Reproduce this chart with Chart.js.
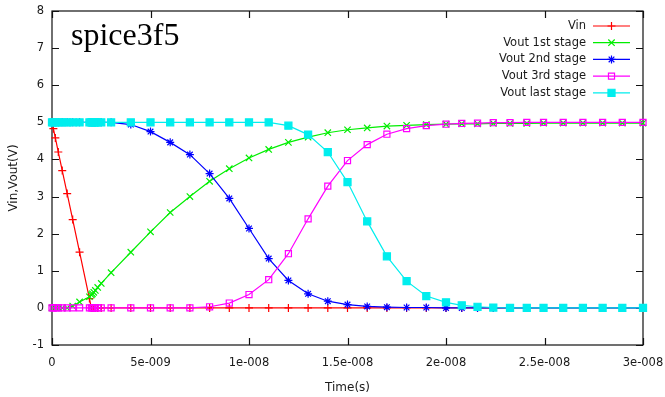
<!DOCTYPE html>
<html lang="en">
<head>
    <meta charset="UTF-8">
    <title>spice3f5 - inverter chain transient</title>
    <script src="https://cdn.jsdelivr.net/npm/chart.js"></script>
    <style>
        body {
            margin: 0;
            padding: 0;
            background-color: #fff;
        }
        .chart-box {
            width: 665px;
            height: 397px;
        }
    </style>
</head>
<body>
    <div class="chart-box">
        <canvas id="tranChart" width="665" height="397"></canvas>
    </div>

    <script>
        // time points of the transient run, in ns
        const timeNs = [0, 0.07, 0.17, 0.32, 0.52, 0.77, 1.05, 1.4, 1.9, 2.0, 2.05, 2.12, 2.2, 2.32, 2.5,
            3, 4, 5, 6, 7, 8, 9, 10, 11, 12, 13, 14, 15, 16, 17, 18, 19, 20,
            20.8, 21.6, 22.4, 23.25, 24.1, 24.95, 25.95, 26.95, 27.95, 28.95, 30];

        const vin = [5, 4.83, 4.58, 4.2, 3.7, 3.08, 2.38, 1.5, 0.25, 0, 0, 0, 0, 0, 0,
            0, 0, 0, 0, 0, 0, 0, 0, 0, 0, 0, 0, 0, 0, 0, 0, 0, 0,
            0, 0, 0, 0, 0, 0, 0, 0, 0, 0, 0];
        const vout1 = [0, 0, 0, 0, 0, 0, 0.05, 0.16, 0.3, 0.35, 0.38, 0.42, 0.47, 0.55, 0.66,
            0.95, 1.5, 2.05, 2.57, 3.0, 3.41, 3.75, 4.04, 4.27, 4.46, 4.6, 4.72, 4.8, 4.85, 4.9, 4.92, 4.94, 4.95,
            4.96, 4.96, 4.97, 4.97, 4.97, 4.98, 4.98, 4.98, 4.98, 4.98, 4.98];
        const vout2 = [5, 5, 5, 5, 5, 5, 5, 5, 5, 5, 5, 5, 5, 5, 5,
            5, 4.94, 4.75, 4.46, 4.13, 3.62, 2.95, 2.14, 1.33, 0.74, 0.38, 0.18, 0.09, 0.04, 0.02, 0.01, 0.01, 0,
            0, 0, 0, 0, 0, 0, 0, 0, 0, 0, 0];
        const vout3 = [0, 0, 0, 0, 0, 0, 0, 0, 0, 0, 0, 0, 0, 0, 0,
            0, 0, 0, 0, 0, 0.03, 0.13, 0.36, 0.76, 1.46, 2.4, 3.28, 3.97, 4.4, 4.68, 4.83, 4.91, 4.95,
            4.97, 4.98, 4.99, 4.99, 5, 5, 5, 5, 5, 5, 5];
        const voutLast = [5, 5, 5, 5, 5, 5, 5, 5, 5, 5, 5, 5, 5, 5, 5,
            5, 5, 5, 5, 5, 5, 5, 5, 5, 4.91, 4.67, 4.2, 3.39, 2.33, 1.39, 0.72, 0.32, 0.15,
            0.07, 0.03, 0.01, 0, 0, 0, 0, 0, 0, 0, 0];

        const seriesNames = ['Vin', 'Vout 1st stage', 'Vout 2nd stage', 'Vout 3rd stage', 'Vout last stage'];
        const seriesColors = ['#ff0000', '#00ee00', '#0000ff', '#ff00ff', '#00eeee'];

        const xTickValues = [0, 5e-9, 1e-8, 1.5e-8, 2e-8, 2.5e-8, 3e-8];
        const xTickLabels = ['0', '5e-009', '1e-008', '1.5e-008', '2e-008', '2.5e-008', '3e-008'];
        const yTickValues = [-1, 0, 1, 2, 3, 4, 5, 6, 7, 8];

        function toPoints(values) {
            return values.map((v, i) => ({ x: timeNs[i] * 1e-9, y: v }));
        }

        // gnuplot-ish marker per series
        const markers = [
            { pointStyle: 'cross', radius: 4, fill: false },
            { pointStyle: 'crossRot', radius: 4.5, fill: false },
            { pointStyle: 'star', radius: 4, fill: false },
            { pointStyle: 'rect', radius: 4.3, fill: false },
            { pointStyle: 'rect', radius: 5, fill: true }
        ];

        function makeDataset(idx, values) {
            const m = markers[idx];
            return {
                label: seriesNames[idx],
                data: toPoints(values),
                borderColor: seriesColors[idx],
                borderWidth: 1.2,
                pointStyle: m.pointStyle,
                pointRadius: m.radius,
                pointBorderColor: seriesColors[idx],
                pointBackgroundColor: m.fill ? seriesColors[idx] : 'rgba(0,0,0,0)',
                pointBorderWidth: 1.2,
                tension: 0,
                clip: false,
                order: 5 - idx
            };
        }

        // box around the plot with inward ticks on all four sides
        const frameTicks = {
            id: 'frameTicks',
            beforeDatasetsDraw(chart) {
                const { ctx, chartArea: a, scales } = chart;
                const len = 7;
                ctx.save();
                ctx.strokeStyle = '#111';
                ctx.lineWidth = 1.2;
                ctx.strokeRect(a.left, a.top, a.right - a.left, a.bottom - a.top);
                ctx.beginPath();
                xTickValues.forEach(v => {
                    const px = Math.round(scales.x.getPixelForValue(v)) + 0.5;
                    ctx.moveTo(px, a.bottom); ctx.lineTo(px, a.bottom - len);
                    ctx.moveTo(px, a.top); ctx.lineTo(px, a.top + len);
                });
                yTickValues.forEach(v => {
                    const py = Math.round(scales.y.getPixelForValue(v)) + 0.5;
                    ctx.moveTo(a.left, py); ctx.lineTo(a.left + len, py);
                    ctx.moveTo(a.right, py); ctx.lineTo(a.right - len, py);
                });
                ctx.stroke();
                ctx.restore();
            }
        };

        // key in the top right corner: label, then line sample with marker
        const sideKey = {
            id: 'sideKey',
            afterDraw(chart) {
                const ctx = chart.ctx;
                const textRight = 586, lineFrom = 593, lineTo = 630;
                const rowTop = 26, rowStep = 16.7;
                ctx.save();
                ctx.font = '11.5px "DejaVu Sans"';
                ctx.textAlign = 'right';
                ctx.textBaseline = 'middle';
                chart.data.datasets.forEach((ds, i) => {
                    const y = rowTop + i * rowStep;
                    ctx.fillStyle = '#1a1a1a';
                    ctx.fillText(ds.label, textRight, y);
                    ctx.strokeStyle = ds.borderColor;
                    ctx.lineWidth = 1.2;
                    ctx.beginPath();
                    ctx.moveTo(lineFrom, y);
                    ctx.lineTo(lineTo, y);
                    ctx.stroke();
                    ctx.fillStyle = ds.pointBackgroundColor;
                    Chart.helpers.drawPoint(ctx, {
                        pointStyle: ds.pointStyle,
                        radius: ds.pointRadius,
                        borderWidth: ds.pointBorderWidth,
                        rotation: 0
                    }, (lineFrom + lineTo) / 2, y);
                });
                // simulator name in the top left of the plot
                ctx.textAlign = 'left';
                ctx.textBaseline = 'alphabetic';
                ctx.fillStyle = '#000';
                ctx.font = '32px "Liberation Serif"';
                ctx.fillText('spice3f5', 71, 45);
                ctx.restore();
            }
        };

        function renderChart() {
            const ctx = document.getElementById('tranChart').getContext('2d');
            new Chart(ctx, {
                type: 'line',
                data: {
                    datasets: [
                        makeDataset(0, vin),
                        makeDataset(1, vout1),
                        makeDataset(2, vout2),
                        makeDataset(3, vout3),
                        makeDataset(4, voutLast)
                    ]
                },
                options: {
                    responsive: false,
                    animation: false,
                    layout: { padding: { top: 11, right: 22, left: 0, bottom: 0 } },
                    plugins: {
                        legend: { display: false },
                        tooltip: { enabled: false }
                    },
                    scales: {
                        x: {
                            type: 'linear',
                            min: 0,
                            max: 3e-8,
                            grid: { display: false, drawTicks: false },
                            border: { display: false },
                            afterBuildTicks: scale => {
                                scale.ticks = xTickValues.map(v => ({ value: v }));
                            },
                            afterFit: scale => {
                                scale.height = 52;
                                scale.paddingLeft = 0;
                                scale.paddingRight = 0;
                            },
                            ticks: {
                                autoSkip: false,
                                maxRotation: 0,
                                padding: 11,
                                color: '#1a1a1a',
                                font: { family: 'DejaVu Sans', size: 11.5 },
                                callback: (value, index) => xTickLabels[index]
                            },
                            title: {
                                display: true,
                                text: 'Time(s)',
                                color: '#1a1a1a',
                                font: { family: 'DejaVu Sans', size: 12 },
                                padding: { top: 0, bottom: 2 }
                            }
                        },
                        y: {
                            min: -1,
                            max: 8,
                            grid: { display: false, drawTicks: false },
                            border: { display: false },
                            afterBuildTicks: scale => {
                                scale.ticks = yTickValues.map(v => ({ value: v }));
                            },
                            afterFit: scale => {
                                scale.width = 52;
                                scale.paddingTop = 0;
                                scale.paddingBottom = 0;
                            },
                            ticks: {
                                padding: 8,
                                color: '#1a1a1a',
                                font: { family: 'DejaVu Sans', size: 11.5 },
                                callback: value => String(value)
                            },
                            title: {
                                display: true,
                                text: 'Vin,Vout(V)',
                                color: '#1a1a1a',
                                font: { family: 'DejaVu Sans', size: 12 },
                                padding: { top: 7, bottom: 4 }
                            }
                        }
                    }
                },
                plugins: [frameTicks, sideKey]
            });
        }

        window.onload = renderChart;
    </script>
</body>
</html>
